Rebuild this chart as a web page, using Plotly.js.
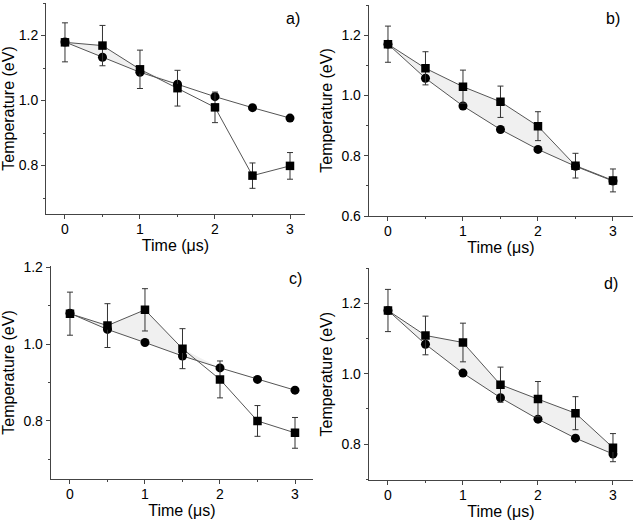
<!DOCTYPE html>
<html>
<head>
<meta charset="utf-8">
<script src="https://cdn.plot.ly/plotly-3.0.1.min.js"></script>
<style>html,body{margin:0;padding:0;background:#fff;}#chart{width:638px;height:523px;}</style>
</head>
<body>
<div id="chart"></div>
<script>
// Data
const times = [0, 0.5, 1, 1.5, 2, 2.5, 3];
const panelLabels = ["a)", "b)", "c)", "d)"];
const xTitle = "Time (μs)";
const yTitle = "Temperature (eV)";

const aSquare    = [1.179, 1.169, 1.096, 1.038, 0.979, 0.769, 0.799];
const aSquareErr = [0.060, 0.062, 0.059, 0.055, 0.047, 0.039, 0.041];
const aCircle    = [1.180, 1.133, 1.087, 1.050, 1.012, 0.978, 0.946];

const bSquare    = [1.170, 1.090, 1.029, 0.979, 0.898, 0.767, 0.718];
const bSquareErr = [0.060, 0.055, 0.055, 0.052, 0.048, 0.041, 0.038];
const bCircle    = [1.170, 1.057, 0.965, 0.887, 0.821, 0.765, 0.716];

const cSquare    = [1.079, 1.048, 1.089, 0.988, 0.908, 0.800, 0.769];
const cSquareErr = [0.056, 0.057, 0.055, 0.052, 0.048, 0.040, 0.040];
const cCircle    = [1.080, 1.038, 1.004, 0.969, 0.938, 0.908, 0.880];

const dSquare    = [1.180, 1.109, 1.089, 0.969, 0.928, 0.888, 0.790];
const dSquareErr = [0.060, 0.055, 0.055, 0.050, 0.050, 0.047, 0.040];
const dCircle    = [1.180, 1.084, 1.002, 0.932, 0.871, 0.817, 0.772];

const squares = [aSquare, bSquare, cSquare, dSquare];
const squareErrs = [aSquareErr, bSquareErr, cSquareErr, dSquareErr];
const circles = [aCircle, bCircle, cCircle, dCircle];

// Layout geometry (pixels on a 638x523 page)
const W = 638, H = 523;
const boxes = [
  {l: 46,    r: 305, t: 3,     b: 214, xr: [-0.253, 3.2],  yr: [0.651, 1.30]},
  {l: 368.7, r: 633, t: 5,     b: 216, xr: [-0.257, 3.267], yr: [0.6, 1.30]},
  {l: 50.7,  r: 313, t: 266,   b: 479, xr: [-0.257, 3.24], yr: [0.649, 1.203]},
  {l: 368.7, r: 633, t: 268.3, b: 480, xr: [-0.257, 3.267], yr: [0.698, 1.30]}
];
const labelPos = [[293, 18], [613, 18], [295, 278], [611, 283]];

const font = {family: "'Liberation Sans', Arial, Helvetica, sans-serif", color: "#000"};
const traces = [];
const layout = {
  width: W, height: H,
  margin: {l: 0, r: 0, t: 0, b: 0},
  paper_bgcolor: "#fff", plot_bgcolor: "#fff",
  showlegend: false,
  font: Object.assign({size: 14}, font),
  annotations: []
};

boxes.forEach((bx, i) => {
  const n = i === 0 ? "" : String(i + 1);
  const xa = "x" + n, ya = "y" + n;
  // circle series
  traces.push({
    x: times, y: circles[i], xaxis: xa, yaxis: ya, type: "scatter", mode: "lines+markers",
    line: {color: "#555", width: 1},
    marker: {symbol: "circle", size: 9, color: "#000"},
    hoverinfo: "skip"
  });
  // light shading only where the square series lies above the circle series
  traces.push({
    x: times, y: squares[i].map((v, k) => Math.max(v, circles[i][k])),
    xaxis: xa, yaxis: ya, type: "scatter", mode: "none",
    fill: "tonexty", fillcolor: "rgba(0,0,0,0.06)", hoverinfo: "skip"
  });
  // square series with error bars
  traces.push({
    x: times, y: squares[i], xaxis: xa, yaxis: ya, type: "scatter", mode: "lines+markers",
    line: {color: "#555", width: 1},
    marker: {symbol: "square", size: 8.5, color: "#000"},
    error_y: {type: "data", array: squareErrs[i], visible: true, color: "#333", thickness: 1, width: 3},
    hoverinfo: "skip"
  });
  const xkey = "xaxis" + n, ykey = "yaxis" + n;
  layout[xkey] = {
    domain: [bx.l / W, bx.r / W], anchor: ya, range: bx.xr,
    showline: true, linecolor: "#444", linewidth: 1, mirror: false,
    showgrid: false, zeroline: false,
    ticks: "outside", ticklen: 4, tickcolor: "#444", tickwidth: 1,
    dtick: 1, tick0: 0, ticklabelstandoff: -2,
    minor: {dtick: 0.5, tick0: 0, ticks: "outside", ticklen: 2, tickcolor: "#444", showgrid: false},
    tickfont: Object.assign({size: 14}, font),
    title: {text: xTitle, font: Object.assign({size: 16}, font), standoff: 0},
    automargin: false, fixedrange: true
  };
  layout[ykey] = {
    domain: [1 - bx.b / H, 1 - bx.t / H], anchor: xa, range: bx.yr,
    showline: true, linecolor: "#444", linewidth: 1, mirror: false,
    showgrid: false, zeroline: false,
    ticks: "outside", ticklen: 4, tickcolor: "#444", tickwidth: 1,
    dtick: 0.2, tick0: 0, tickformat: ".1f",
    minor: {dtick: 0.1, tick0: 0, ticks: "outside", ticklen: 2, tickcolor: "#444", showgrid: false},
    tickfont: Object.assign({size: 14}, font),
    title: {text: yTitle, font: Object.assign({size: 16}, font), standoff: 4},
    automargin: false, fixedrange: true
  };
  layout.annotations.push({
    text: panelLabels[i], xref: "paper", yref: "paper",
    x: labelPos[i][0] / W, y: 1 - labelPos[i][1] / H, xanchor: "center", yanchor: "middle",
    showarrow: false, font: Object.assign({size: 16}, font)
  });
});

Plotly.newPlot("chart", traces, layout, {staticPlot: true, displayModeBar: false});
</script>
</body>
</html>
